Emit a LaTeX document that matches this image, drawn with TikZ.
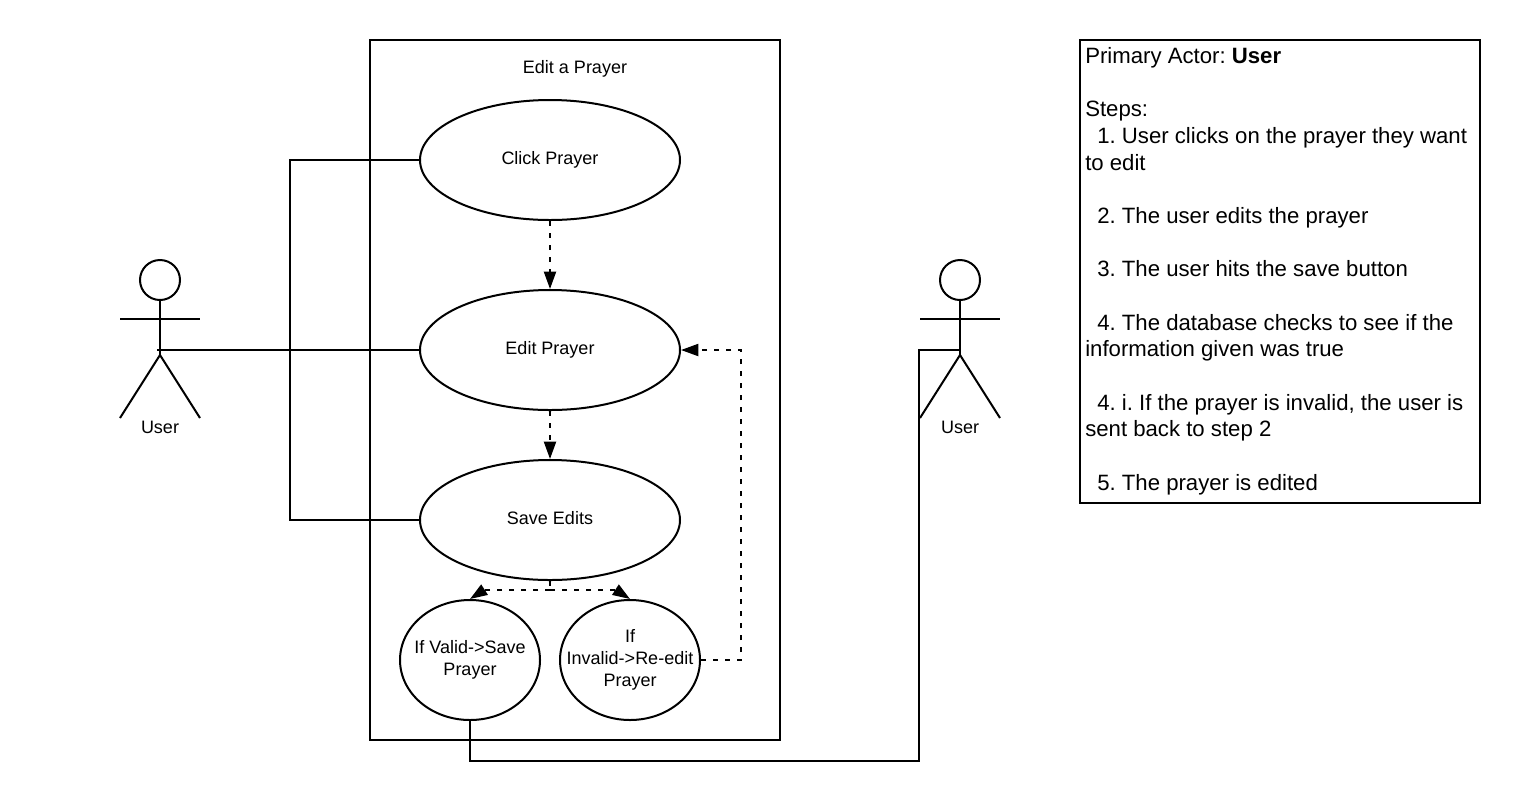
\documentclass[tikz,border=0pt]{standalone}
\usepackage{fontspec}
\setmainfont{Liberation Sans}
\usetikzlibrary{arrows.meta,positioning,calc,shapes.geometric}
\tikzset{
  line/.style={draw=black,line width=1.5pt},
  label/.style={font=\frenchspacing\fontsize{13.5}{16.5}\selectfont,align=center,inner sep=0pt},
  usecase/.style={ellipse,line,fill=white,minimum width=195pt,minimum height=90pt,label,inner sep=0pt,text height=9pt,text depth=2.2pt},
  branch/.style={ellipse,line,fill=white,minimum width=105pt,minimum height=90pt,label,inner xsep=-14pt,inner ysep=0pt},
  frame/.style={rectangle,line,minimum width=307.5pt,minimum height=525pt,inner sep=0pt},
  steps/.style={rectangle,line,minimum width=300pt,minimum height=347.25pt,inner sep=0pt,outer sep=0pt},
  stepstext/.style={font=\frenchspacing\fontsize{16.63}{20}\selectfont,align=left,inner sep=0pt,anchor=north west},
  conn/.style={line},
  arr/.style={line,dash pattern=on 3.5pt off 5.5pt,-{Triangle[length=13pt,width=9pt]}},
  dashline/.style={line,dash pattern=on 3.5pt off 5.5pt}
}
% draws one stick figure around its hip point
\newcommand{\stickman}[2]{
  \node[circle,line,minimum size=30pt,inner sep=0pt] (#1head) at ($(#2)+(0,-70)$) {};
  \coordinate (#1hip) at ($(#2)+(0,5)$);
  \draw[line] (#1head.south)--(#1hip);
  \coordinate (#1armL) at ($(#2)+(-40,-31)$); \coordinate (#1armR) at ($(#2)+(40,-31)$);
  \draw[line] (#1armL)--(#1armR);
  \coordinate (#1legL) at ($(#2)+(-40,68)$); \coordinate (#1legR) at ($(#2)+(40,68)$);
  \draw[line] (#1legL)--(#1hip)--(#1legR);
  \node[label] (#1name) at ($(#2)+(0,77)$) {User};
}
\begin{document}
\begin{tikzpicture}[x=0.75pt,y=-0.75pt]
\path[use as bounding box] (0,0) rectangle (1520,801);
\node[frame] (box) at (575,390) {};
\node[label] (title) at (575,69) {Edit a Prayer};

\node[usecase] (click) at (550,160) {Click Prayer};
\node[usecase] (edit) at (550,350) {Edit Prayer};
\node[usecase] (save) at (550,520) {Save Edits};
\node[branch] (valid) at (470,660) {If Valid-\textgreater Save\\Prayer};
\node[branch] (invalid) at (630,660) {If\\Invalid-\textgreater Re-edit\\Prayer};

\coordinate (left) at (160,350); \coordinate (right) at (960,350);
\stickman{a}{left}
\stickman{b}{right}

\coordinate (joinL) at (290,350);
\coordinate (joinR) at (919,761);
\draw[conn] ($(left)+(-3,0)$)--(edit.west);
\draw[conn] (click.west) -| (joinL) |- (save.west);
\draw[conn] (valid.south) |- (joinR) |- ($(right)+(1,0)$);

\draw[arr] (click.south)--(edit.north);
\draw[arr] (edit.south)--(save.north);
\coordinate (fork) at (550,590); \coordinate (forkL) at (484,590); \coordinate (forkR) at (616,590);
\draw[dashline] (save.south)--(fork);
\draw[arr] (fork)--(forkL)--(valid.north);
\draw[arr] (fork)--(forkR)--(invalid.north);
\coordinate (back) at (741,660); \coordinate (backtop) at (741,350);
\draw[arr] (invalid.east)--(back)--(backtop)--(edit.east);

\node[steps,anchor=north west] (panel) at (1080,40) {};
\node[stepstext] (stepslist) at (1085,47) {Primary Actor: \textbf{User}\\[20pt]
Steps:\\
\hspace*{9pt}1. User clicks on the prayer they want\\
to edit\\[20pt]
\hspace*{9pt}2. The user edits the prayer\\[20pt]
\hspace*{9pt}3. The user hits the save button\\[20pt]
\hspace*{9pt}4. The database checks to see if the\\
information given was true\\[20pt]
\hspace*{9pt}4. i. If the prayer is invalid, the user is\\
sent back to step 2\\[20pt]
\hspace*{9pt}5. The prayer is edited};
\end{tikzpicture}
\end{document}
